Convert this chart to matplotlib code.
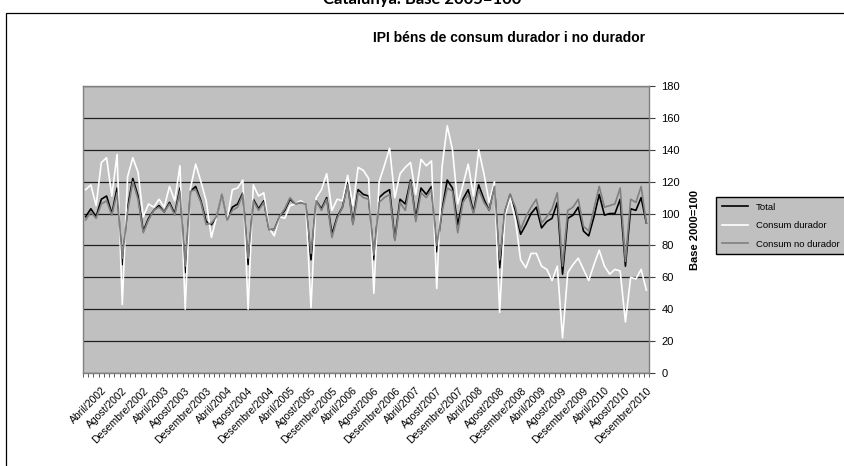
import matplotlib
matplotlib.use('Agg')
import matplotlib.pyplot as plt
from matplotlib.patches import Rectangle
import numpy as np

plt.rcParams['font.family'] = ['Liberation Sans', 'DejaVu Sans']

# mesos de gener/2002 a desembre/2010
mesos = ['Gener', 'Febrer', 'Març', 'Abril', 'Maig', 'Juny', 'Juliol',
         'Agost', 'Setembre', 'Octubre', 'Novembre', 'Desembre']
anys = list(range(2002, 2011))
categories = ['%s/%d' % (m, a) for a in anys for m in mesos]

total = [98, 103, 98, 109, 111, 100, 116, 68, 104, 122, 111, 89,
         97, 102, 105, 101, 107, 100, 116, 63, 114, 117, 108, 95,
         93, 98, 112, 96, 104, 106, 113, 68, 109, 103, 108, 90,
         90, 98, 102, 109, 106, 107, 106, 71, 108, 103, 110, 87,
         98, 104, 119, 94, 115, 112, 111, 71, 110, 113, 115, 84,
         109, 106, 121, 97, 116, 112, 117, 76, 102, 121, 116, 93,
         109, 115, 101, 118, 109, 102, 118, 66, 101, 112, 102, 87,
         93, 100, 104, 91, 95, 97, 107, 62, 97, 99, 104, 89,
         86, 98, 112, 99, 100, 100, 109, 67, 103, 102, 110, 94]

durador = [115, 118, 105, 132, 135, 111, 137, 43, 123, 135, 126, 98,
           106, 104, 109, 104, 117, 108, 130, 40, 116, 131, 120, 108,
           85, 98, 112, 96, 115, 116, 121, 40, 118, 111, 113, 91,
           86, 98, 97, 105, 106, 108, 106, 41, 110, 115, 125, 102,
           109, 108, 124, 105, 129, 127, 122, 50, 120, 130, 141, 110,
           125, 129, 132, 112, 134, 130, 133, 53, 129, 155, 140, 106,
           118, 131, 111, 140, 125, 107, 120, 38, 98, 110, 96, 71,
           66, 75, 75, 67, 65, 58, 67, 22, 63, 68, 72, 65,
           58, 68, 77, 67, 62, 65, 64, 32, 60, 59, 65, 52]

no_durador = [96, 101, 97, 106, 108, 99, 113, 72, 101, 120, 109, 88,
              96, 102, 104, 101, 106, 99, 114, 67, 114, 115, 107, 93,
              94, 98, 112, 96, 102, 104, 112, 72, 108, 102, 107, 90,
              90, 98, 103, 110, 106, 107, 106, 75, 108, 102, 109, 85,
              97, 104, 118, 93, 113, 110, 109, 74, 107, 110, 112, 83,
              107, 102, 120, 95, 113, 110, 115, 80, 101, 116, 114, 88,
              107, 112, 100, 115, 107, 102, 117, 71, 102, 112, 104, 90,
              98, 104, 109, 94, 98, 103, 113, 67, 102, 104, 109, 92,
              89, 103, 117, 104, 105, 106, 116, 70, 109, 107, 117, 94]

x = np.arange(len(categories))

fig = plt.figure(figsize=(8.45, 4.66), dpi=100)
ax = fig.add_axes([83 / 845, 1 - 373 / 466, 566 / 845, 287 / 466])
ax.set_facecolor('#c0c0c0')

ax.plot(x, total, color='black', lw=1.2, label='Total')
ax.plot(x, durador, color='white', lw=1.2, label='Consum durador')
ax.plot(x, no_durador, color='#808080', lw=1.2, label='Consum no durador')

ax.set_ylim(0, 180)
ax.set_yticks(range(0, 181, 20))
ax.yaxis.tick_right()
ax.yaxis.set_label_position('right')
ax.tick_params(axis='y', labelsize=8, length=4, color='#404040', pad=5)
ax.set_ylabel('Base 2000=100', fontsize=8, fontweight='bold', labelpad=7)
ax.grid(axis='y', color='#202020', lw=0.9)
ax.set_axisbelow(True)

ax.set_xlim(-0.5, len(x) - 0.5)
pos = x[3::4]
ax.set_xticks(pos)
ax.set_xticklabels([categories[i] for i in pos], rotation=45, ha='right',
                   rotation_mode='anchor', fontsize=7.5)
ax.tick_params(axis='x', length=0, pad=9)
ax.set_xticks(np.arange(-0.5, len(x), 1), minor=True)
ax.tick_params(axis='x', which='minor', length=3, color='#404040')

for s in ax.spines.values():
    s.set_color('#808080')
    s.set_linewidth(1.0)

fig.text(509 / 845, 1 - 38 / 466, 'IPI béns de consum durador i no durador',
         ha='center', va='center', fontsize=10, fontweight='bold')
fig.text(422 / 845, 1 - 4 / 466, 'Catalunya. Base 2005=100', ha='center',
         va='baseline', fontsize=12, fontweight='bold', family=['Lato', 'DejaVu Sans'])

fig.add_artist(Rectangle((6 / 845, -0.1), 1.2, 1.1 - 13 / 466, transform=fig.transFigure,
                         fill=False, edgecolor='black', lw=0.9))

leg = fig.legend(loc='upper left', bbox_to_anchor=(716 / 845, 1 - 197 / 466),
                 borderaxespad=0, fontsize=6.8, frameon=True, fancybox=False,
                 handlelength=2.8, labelspacing=1.0, borderpad=0.6)
leg.get_frame().set_facecolor('#c0c0c0')
leg.get_frame().set_edgecolor('black')
leg.get_frame().set_alpha(1)

fig.savefig('out.png', dpi=100)
